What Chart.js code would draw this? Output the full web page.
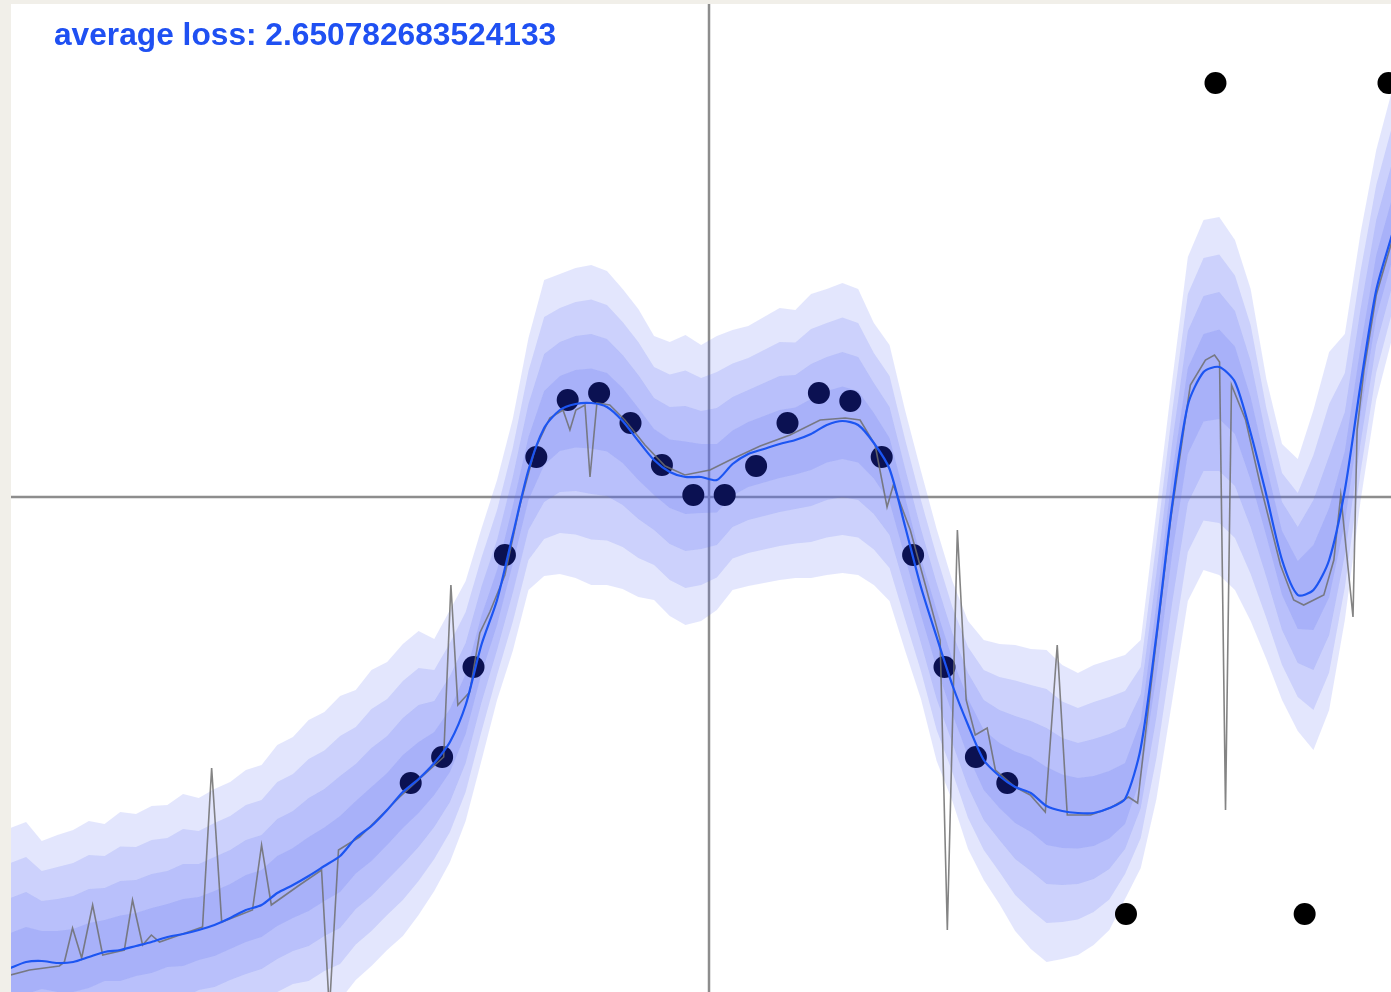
<!DOCTYPE html>
<html>
<head>
<meta charset="utf-8">
<script src="https://cdn.jsdelivr.net/npm/chart.js@4"></script>
<style>
  html, body { margin: 0; padding: 0; background: #f1efe9; }
  body { width: 1391px; height: 992px; position: relative; overflow: hidden; }
  #plot { position: absolute; left: 11px; top: 4px; width: 1380px; height: 988px; background: #fff; }
  #loss { position: absolute; left: 54px; top: 19px; font: bold 31.7px "Liberation Sans", Arial, sans-serif;
          line-height: 31px; color: #1f50f2; white-space: nowrap; }
</style>
</head>
<body>
<div id="plot"><canvas id="chart"></canvas></div>
<div id="loss"></div>
<script>
const lossText = 'average loss: 2.650782683524133';

// visible window of the plot (axes cross at 0,0)
const xMin = -22.23, xMax = 21.72;
const yMin = -4.95, yMax = 4.93;

// training points
const pointX = [-9.5, -8.5, -7.5, -6.5, -5.5, -4.5, -3.5, -2.5, -1.5, -0.5,
                0.5, 1.5, 2.5, 3.5, 4.5, 5.5, 6.5, 7.5, 8.5, 9.5];
const pointY = [-2.86, -2.60, -1.70, -0.58, 0.40, 0.97, 1.04, 0.74, 0.32, 0.02,
                0.02, 0.31, 0.74, 1.04, 0.96, 0.40, -0.58, -1.70, -2.60, -2.86];
const outlierX = [13.28, 16.13, 18.97, 21.64];
const outlierY = [-4.17, 4.14, -4.17, 4.14];

// predictive mean and spread (above / below) on a regular grid
const gridX = [-22.25, -21.75, -21.25, -20.75, -20.25, -19.75, -19.25, -18.75, -18.25, -17.75,
               -17.25, -16.75, -16.25, -15.75, -15.25, -14.75, -14.25, -13.75, -13.25, -12.75,
               -12.25, -11.75, -11.25, -10.75, -10.25, -9.75, -9.25, -8.75, -8.25, -7.75,
               -7.25, -6.75, -6.25, -5.75, -5.25, -4.75, -4.25, -3.75, -3.25, -2.75,
               -2.25, -1.75, -1.25, -0.75, -0.25, 0.25, 0.75, 1.25, 1.75, 2.25,
               2.75, 3.25, 3.75, 4.25, 4.75, 5.25, 5.75, 6.25, 6.75, 7.25,
               7.75, 8.25, 8.75, 9.25, 9.75, 10.25, 10.75, 11.25, 11.75, 12.25,
               12.75, 13.25, 13.75, 14.25, 14.75, 15.25, 15.75, 16.25, 16.75, 17.25,
               17.75, 18.25, 18.75, 19.25, 19.75, 20.25, 20.75, 21.25, 21.75];
const meanY = [-4.71, -4.65, -4.64, -4.66, -4.65, -4.60, -4.55, -4.53, -4.49, -4.45,
               -4.40, -4.37, -4.33, -4.28, -4.21, -4.13, -4.08, -3.96, -3.88, -3.79,
               -3.69, -3.59, -3.41, -3.29, -3.13, -2.95, -2.82, -2.66, -2.45, -2.08,
               -1.48, -1.03, -0.38, 0.27, 0.69, 0.87, 0.93, 0.94, 0.90, 0.76,
               0.56, 0.37, 0.25, 0.20, 0.20, 0.17, 0.33, 0.43, 0.48, 0.53,
               0.57, 0.63, 0.72, 0.76, 0.72, 0.54, 0.28, -0.30, -0.90, -1.40,
               -1.88, -2.28, -2.63, -2.79, -2.90, -2.96, -3.09, -3.14, -3.16, -3.16,
               -3.11, -3.02, -2.51, -1.38, -0.08, 0.92, 1.25, 1.30, 1.15, 0.64,
               0.02, -0.63, -0.98, -0.93, -0.63, 0.07, 1.12, 2.07, 2.62];
const spreadUp = [0.35, 0.35, 0.30, 0.32, 0.33, 0.34, 0.32, 0.345, 0.33, 0.34,
                  0.33, 0.35, 0.33, 0.34, 0.34, 0.35, 0.35, 0.37, 0.37, 0.39,
                  0.385, 0.40, 0.37, 0.39, 0.37, 0.37, 0.37, 0.31, 0.33, 0.31,
                  0.29, 0.30, 0.29, 0.33, 0.37, 0.34, 0.34, 0.345, 0.34, 0.33,
                  0.33, 0.31, 0.325, 0.355, 0.33, 0.36, 0.335, 0.32, 0.33, 0.34,
                  0.325, 0.35, 0.34, 0.345, 0.34, 0.30, 0.31, 0.29, 0.29, 0.27,
                  0.26, 0.26, 0.30, 0.33, 0.355, 0.36, 0.39, 0.365, 0.35, 0.37,
                  0.37, 0.36, 0.27, 0.31, 0.31, 0.37, 0.38, 0.375, 0.355, 0.36,
                  0.29, 0.29, 0.34, 0.45, 0.52, 0.39, 0.38, 0.35, 0.36];
const spreadDown = [0.32, 0.32, 0.28, 0.29, 0.30, 0.31, 0.29, 0.31, 0.30, 0.31,
                    0.30, 0.32, 0.30, 0.31, 0.31, 0.32, 0.32, 0.33, 0.33, 0.35,
                    0.35, 0.36, 0.355, 0.35, 0.35, 0.36, 0.34, 0.32, 0.30, 0.29,
                    0.29, 0.25, 0.29, 0.30, 0.37, 0.41, 0.435, 0.455, 0.445, 0.42,
                    0.39, 0.35, 0.36, 0.37, 0.36, 0.325, 0.315, 0.33, 0.335, 0.34,
                    0.345, 0.36, 0.375, 0.38, 0.375, 0.355, 0.33, 0.31, 0.28, 0.31,
                    0.29, 0.31, 0.30, 0.32, 0.36, 0.39, 0.39, 0.37, 0.355, 0.33,
                    0.305, 0.25, 0.30, 0.41, 0.49, 0.49, 0.495, 0.52, 0.52, 0.47,
                    0.41, 0.35, 0.34, 0.40, 0.375, 0.325, 0.29, 0.275, 0.26];
const bandLevels = [4, 3, 2, 1];

// one sampled prediction (grey)
const sampleX = [-22.25, -21.64, -20.69, -20.53, -20.27, -19.98, -19.63, -19.31, -18.62, -18.36,
                 -18.04, -17.76, -17.50, -16.13, -15.84, -15.52, -14.54, -14.25, -13.94, -13.04,
                 -12.34, -12.09, -11.80, -11.13, -9.85, -8.45, -8.22, -8.00, -7.62, -7.30,
                 -6.98, -6.50, -6.02, -5.55, -5.07, -4.65, -4.43, -4.24, -3.95, -3.79,
                 -3.57, -3.16, -2.68, -2.04, -1.40, -0.77, 0.03, 0.67, 1.63, 2.58,
                 3.54, 4.34, 4.81, 5.29, 5.67, 5.87, 6.41, 6.89, 7.36, 7.59,
                 7.91, 8.19, 8.48, 8.86, 9.12, 9.75, 10.23, 10.71, 11.09, 11.41,
                 12.15, 12.78, 13.36, 13.65, 14.06, 14.70, 15.33, 15.81, 16.10, 16.26,
                 16.45, 16.64, 17.09, 17.56, 18.20, 18.62, 18.94, 19.58, 19.90, 20.12,
                 20.51, 20.64, 20.86, 21.25, 21.76];
const sampleY = [-4.78, -4.73, -4.69, -4.65, -4.31, -4.61, -4.08, -4.58, -4.53, -4.03,
                 -4.48, -4.38, -4.45, -4.30, -2.71, -4.25, -4.13, -3.48, -4.08, -3.88,
                 -3.73, -5.13, -3.53, -3.40, -3.00, -2.60, -0.88, -2.08, -1.95, -1.36,
                 -1.15, -0.78, -0.08, 0.47, 0.79, 0.87, 0.67, 0.87, 0.92, 0.20,
                 0.94, 0.92, 0.77, 0.52, 0.31, 0.22, 0.27, 0.37, 0.51, 0.62,
                 0.77, 0.79, 0.77, 0.52, -0.10, 0.12, -0.33, -0.88, -1.43, -4.33,
                 -0.33, -2.03, -2.38, -2.31, -2.73, -2.90, -2.98, -3.15, -1.48, -3.18,
                 -3.18, -3.11, -3.00, -3.06, -1.93, -0.23, 1.12, 1.37, 1.42, 1.35,
                 -3.13, 1.12, 0.77, 0.12, -0.68, -1.03, -1.08, -0.98, -0.63, 0.02,
                 -1.20, 0.67, 1.27, 2.02, 2.57];

document.getElementById('loss').textContent = lossText;

const pts = (xs, ys) => xs.map((x, i) => ({ x: x, y: ys[i] }));

const datasets = [];

// axes through the origin
datasets.push({ data: [{ x: xMin, y: 0 }, { x: xMax, y: 0 }], borderColor: '#8d8d8d', borderWidth: 2.5, pointRadius: 0, order: 10 });
datasets.push({ data: [{ x: 0, y: yMin }, { x: 0, y: yMax }], borderColor: '#8d8d8d', borderWidth: 2.5, pointRadius: 0, order: 10 });

// uncertainty bands, mean +/- k * spread
for (const k of bandLevels) {
  const lowerIndex = datasets.length;
  datasets.push({
    data: gridX.map((x, i) => ({ x: x, y: meanY[i] - k * spreadDown[i] })),
    borderWidth: 0, pointRadius: 0, fill: false, order: 6
  });
  datasets.push({
    data: gridX.map((x, i) => ({ x: x, y: meanY[i] + k * spreadUp[i] })),
    borderWidth: 0, pointRadius: 0, fill: lowerIndex,
    backgroundColor: 'rgba(90,108,243,0.17)', order: 6
  });
}

// data points
datasets.push({ data: pts(pointX, pointY), showLine: false, pointRadius: 11, pointBackgroundColor: '#0b1152', pointBorderWidth: 0, order: 3 });
datasets.push({ data: pts(outlierX, outlierY), showLine: false, pointRadius: 11, pointBackgroundColor: '#000', pointBorderWidth: 0, order: 3 });

// grey sample and blue mean
datasets.push({ data: pts(sampleX, sampleY), borderColor: 'rgba(110,110,110,0.85)', borderWidth: 1.6, pointRadius: 0, order: 2 });
datasets.push({ data: pts(gridX, meanY), borderColor: '#1c55f2', borderWidth: 2.2, pointRadius: 0, tension: 0.25, order: 1 });

new Chart(document.getElementById('chart'), {
  type: 'line',
  data: { datasets: datasets },
  options: {
    responsive: true,
    maintainAspectRatio: false,
    animation: false,
    layout: { padding: 0, autoPadding: false },
    plugins: { legend: { display: false }, tooltip: { enabled: false } },
    scales: {
      x: { type: 'linear', min: xMin, max: xMax, display: false },
      y: { type: 'linear', min: yMin, max: yMax, display: false }
    }
  }
});
</script>
</body>
</html>
